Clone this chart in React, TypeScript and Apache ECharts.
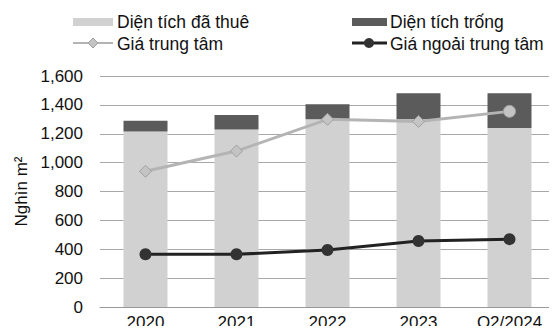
import React, { useEffect, useRef } from "react";
import * as echarts from "echarts";

const categories = ["2020", "2021", "2022", "2023", "Q2/2024"];
const leasedArea = [1215, 1230, 1300, 1300, 1240];
const vacantArea = [75, 100, 105, 180, 240];
const centralPrice = [940, 1080, 1300, 1285, 1355];
const outerPrice = [365, 365, 395, 457, 470];
const yTicks = { min: 0, max: 1600, interval: 200 };

const seriesNames = {
  leased: "Diện tích đã thuê",
  vacant: "Diện tích trống",
  central: "Giá trung tâm",
  outer: "Giá ngoải trung tâm",
};

const FONT = "'Liberation Sans', Arial, sans-serif";
const LIGHT = "#d1d1d1";
const DARK = "#5b5b5b";
const CENTRAL = "#b4b4b4";
const OUTER = "#222222";

export default function App() {
  const ref = useRef<HTMLDivElement>(null);
  useEffect(() => {
    if (!ref.current) return;
    const chart = echarts.init(ref.current, null, { renderer: "svg" });
    const legendText = (x: number, y: number, text: string) => ({
      type: "text",
      x,
      y,
      style: { text, fill: "#111", font: `17.5px ${FONT}`, textVerticalAlign: "middle" },
    });
    chart.setOption({
      animation: false,
      backgroundColor: "#ffffff",
      textStyle: { fontFamily: FONT },
      grid: { left: 100, right: 2, top: 76, bottom: 27, containLabel: false },
      xAxis: {
        type: "category",
        data: categories,
        axisLine: { lineStyle: { color: "#999" } },
        axisTick: { show: false },
        axisLabel: { color: "#111", fontSize: 17, margin: 7, fontFamily: FONT },
      },
      yAxis: {
        type: "value",
        min: yTicks.min,
        max: yTicks.max,
        interval: yTicks.interval,
        name: "Nghìn m²",
        nameLocation: "middle",
        nameRotate: 90,
        nameGap: 70,
        nameTextStyle: { color: "#111", fontSize: 17, fontFamily: FONT },
        axisLine: { show: false },
        axisTick: { show: false },
        axisLabel: {
          color: "#111",
          fontSize: 17,
          margin: 17,
          fontFamily: FONT,
          formatter: (v: number) => v.toLocaleString("en-US"),
        },
        splitLine: { lineStyle: { color: "#a8a8a8", width: 1 } },
      },
      series: [
        {
          name: seriesNames.leased,
          type: "bar",
          stack: "area",
          barWidth: 44,
          data: leasedArea,
          itemStyle: { color: LIGHT },
        },
        {
          name: seriesNames.vacant,
          type: "bar",
          stack: "area",
          barWidth: 44,
          data: vacantArea,
          itemStyle: { color: DARK },
        },
        {
          name: seriesNames.central,
          type: "line",
          data: centralPrice.map((v, i) => ({
            value: v,
            symbol: i === centralPrice.length - 1 ? "circle" : "diamond",
          })),
          symbolSize: 12,
          lineStyle: { color: CENTRAL, width: 3 },
          itemStyle: { color: "#c4c4c4", borderColor: "#a0a0a0", borderWidth: 1 },
          z: 5,
        },
        {
          name: seriesNames.outer,
          type: "line",
          data: outerPrice,
          symbol: "circle",
          symbolSize: 12,
          lineStyle: { color: OUTER, width: 3 },
          itemStyle: { color: "#333" },
          z: 6,
        },
      ],
      graphic: [
        { type: "rect", shape: { x: 73, y: 18, width: 40, height: 8 }, style: { fill: LIGHT } },
        legendText(117, 22, seriesNames.leased),
        { type: "line", shape: { x1: 73, y1: 43, x2: 113, y2: 43 }, style: { stroke: CENTRAL, lineWidth: 2 } },
        {
          type: "polygon",
          shape: { points: [[93, 38], [98, 43], [93, 48], [88, 43]] },
          style: { fill: "#c4c4c4", stroke: "#a0a0a0", lineWidth: 1 },
        },
        legendText(117, 44, seriesNames.central),
        { type: "rect", shape: { x: 352, y: 18, width: 35, height: 8 }, style: { fill: DARK } },
        legendText(390, 22, seriesNames.vacant),
        { type: "line", shape: { x1: 352, y1: 43, x2: 387, y2: 43 }, style: { stroke: OUTER, lineWidth: 3 } },
        { type: "circle", shape: { cx: 369, cy: 43, r: 5 }, style: { fill: "#333" } },
        legendText(390, 44, seriesNames.outer),
      ],
    });
    return () => chart.dispose();
  }, []);
  return <div ref={ref} style={{ width: 557, height: 334, margin: -8 }} />;
}
